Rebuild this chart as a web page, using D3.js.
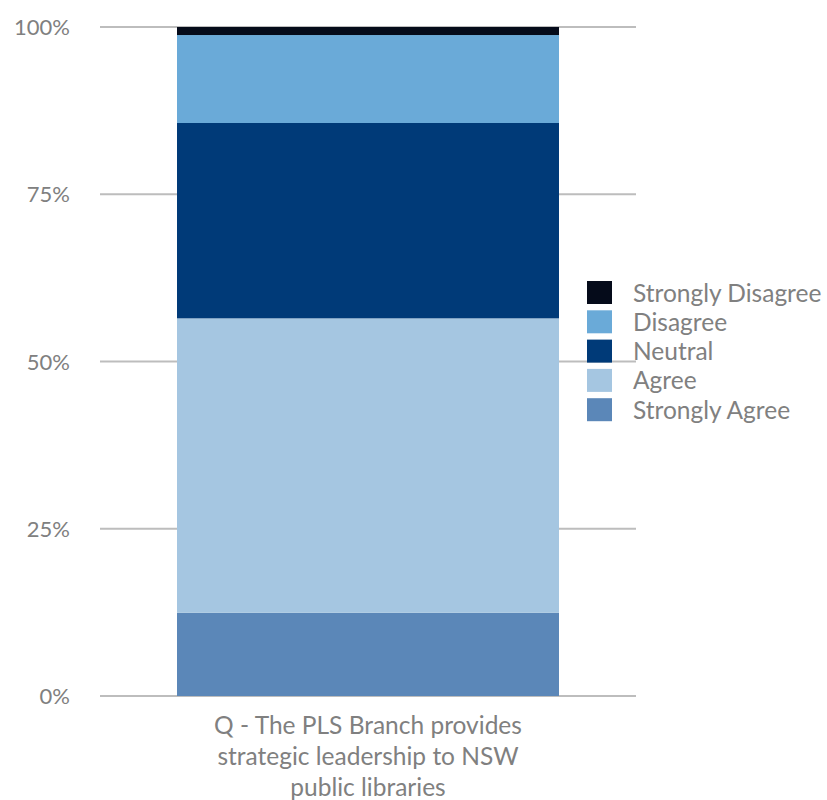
<!DOCTYPE html>
<html>
<head>
<meta charset="utf-8">
<script src="https://cdn.jsdelivr.net/npm/d3@7"></script>
<style>
  html, body { margin: 0; padding: 0; background: #fff; }
  svg text { font-family: "Lato", "Open Sans", sans-serif; fill: #808080; }
</style>
</head>
<body>
<svg id="chart" width="827" height="800"></svg>
<script>
// Survey responses (percent of respondents), bottom to top of the stack
const categories = ["Q - The PLS Branch provides strategic leadership to NSW public libraries"];
const categoryLines = [["Q - The PLS Branch provides", "strategic leadership to NSW", "public libraries"]];
const seriesNames = ["Strongly Agree", "Agree", "Neutral", "Disagree", "Strongly Disagree"];
const stronglyAgree = [12.45];
const agree = [44.0];
const neutral = [29.2];
const disagree = [13.15];
const stronglyDisagree = [1.2];
const tickValues = [0, 25, 50, 75, 100];
const tickLabels = ["0%", "25%", "50%", "75%", "100%"];
const colors = ["#5b87b8", "#a5c6e1", "#003a78", "#6aaad8", "#050b1a"];

const rows = categories.map((c, i) => ({
  category: c,
  "Strongly Agree": stronglyAgree[i],
  "Agree": agree[i],
  "Neutral": neutral[i],
  "Disagree": disagree[i],
  "Strongly Disagree": stronglyDisagree[i]
}));

const svg = d3.select("#chart");
const plot = { left: 100, right: 636, top: 27, bottom: 696 };

const y = d3.scaleLinear().domain([0, 100]).range([plot.bottom, plot.top]);
const x = d3.scaleBand().domain(categories).range([plot.left, plot.right]).paddingInner(0).paddingOuter(0.2016);

// Horizontal gridlines
svg.append("g")
  .selectAll("line")
  .data(tickValues)
  .join("line")
  .attr("x1", plot.left)
  .attr("x2", plot.right)
  .attr("y1", d => y(d))
  .attr("y2", d => y(d))
  .attr("stroke", "#bdbdbd")
  .attr("stroke-width", 2);

// Y axis labels
const yAxis = d3.axisLeft(y).tickValues(tickValues).tickFormat((d, i) => tickLabels[i]).tickSize(0).tickPadding(0);
const yg = svg.append("g").attr("transform", `translate(70,0)`).call(yAxis);
yg.select(".domain").remove();
yg.selectAll("text").style("font-size", "22px").attr("fill", "#808080").attr("dy", "0.35em");

// Stacked bar
const stack = d3.stack().keys(seriesNames);
const layers = stack(rows);
const color = d3.scaleOrdinal().domain(seriesNames).range(colors);

svg.append("g")
  .selectAll("g")
  .data(layers)
  .join("g")
  .attr("fill", d => color(d.key))
  .selectAll("rect")
  .data(d => d)
  .join("rect")
  .attr("x", d => x(d.data.category))
  .attr("width", x.bandwidth())
  .attr("y", d => y(d[1]))
  .attr("height", d => y(d[0]) - y(d[1]));

// Category label, wrapped over three lines
const xl = svg.append("g");
categories.forEach((c, i) => {
  const cx = x(c) + x.bandwidth() / 2;
  xl.append("text")
    .attr("text-anchor", "middle")
    .style("font-size", "24.5px")
    .selectAll("tspan")
    .data(categoryLines[i])
    .join("tspan")
    .attr("x", cx)
    .attr("y", (d, j) => 734 + j * 31)
    .text(d => d);
});

// Legend, top entry is the top of the stack
const legendItems = seriesNames.slice().reverse();
const legend = svg.append("g").attr("transform", "translate(587,281)");
const item = legend.selectAll("g")
  .data(legendItems)
  .join("g")
  .attr("transform", (d, i) => `translate(0,${i * 29.3})`);
item.append("rect")
  .attr("width", 25)
  .attr("height", 23)
  .attr("fill", d => color(d));
item.append("text")
  .attr("x", 46)
  .attr("y", 12)
  .attr("dy", "0.35em")
  .style("font-size", "24.5px")
  .text(d => d);
</script>
</body>
</html>
